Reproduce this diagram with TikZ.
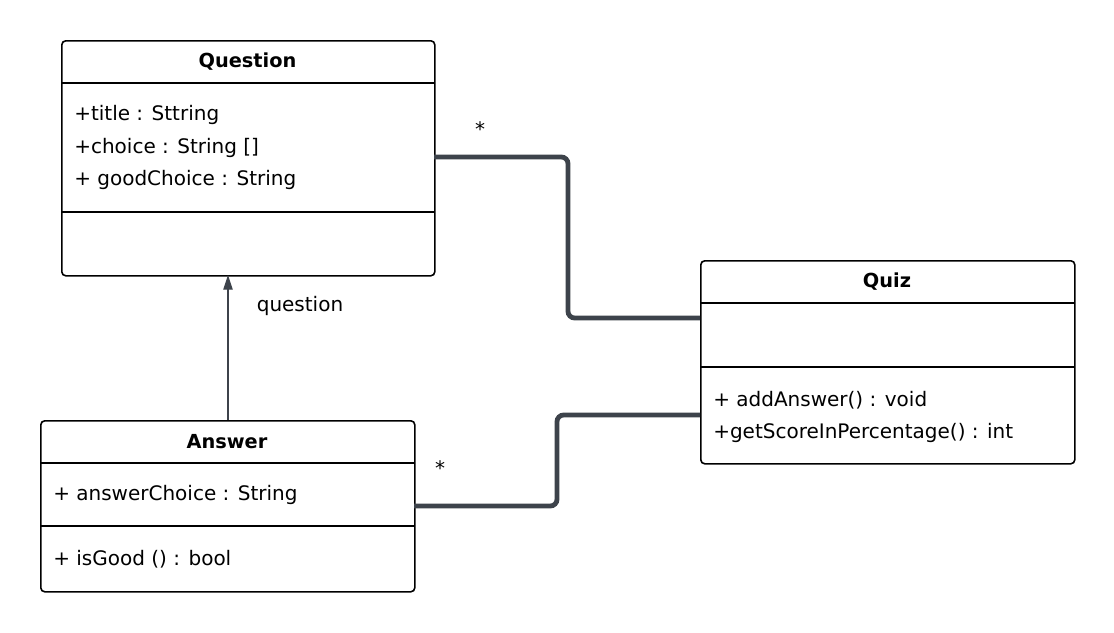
\documentclass[tikz,border=0pt]{standalone}
\usepackage{fontspec}
\setmainfont{DejaVu Sans}
\usetikzlibrary{arrows.meta}
\definecolor{conn}{HTML}{3D434B}
\begin{document}
\begin{tikzpicture}[x=0.75pt,y=-0.75pt,
  classbox/.style={draw=black,line width=1.2pt,rounded corners=3pt,inner sep=0pt},
  divider/.style={draw=black,line width=1.2pt},
  title/.style={font=\fontsize{14.5pt}{16pt}\selectfont\bfseries,inner sep=0pt},
  member/.style={font=\fontsize{15pt}{16pt}\selectfont,anchor=west,inner sep=0pt},
  assoc/.style={draw=conn,line width=3.6pt,rounded corners=5pt},
  lbl/.style={font=\fontsize{15pt}{16pt}\selectfont,inner sep=0pt}]
\useasboundingbox (0,0) rectangle (1114,632);
% Question
\node[classbox,minimum width=373*0.75pt,minimum height=235*0.75pt,anchor=north west] (Q) at (61,40) {};
\draw[divider] (61,83) -- (434,83);
\draw[divider] (61,212) -- (434,212);
\node[title] (Qt) at (247.5,62) {Question};
\node[member] (Q1) at (74,115) {+title : Sttring};
\node[member] (Q2) at (74,148) {+choice : String []};
\node[member] (Q3) at (74,180) {+ goodChoice : String};
% Quiz
\node[classbox,minimum width=374*0.75pt,minimum height=203*0.75pt,anchor=north west] (Z) at (700,260) {};
\draw[divider] (700,303) -- (1074,303);
\draw[divider] (700,367) -- (1074,367);
\node[title] (Zt) at (887,282) {Quiz};
\node[member] (Z1) at (713,400) {+ addAnswer() : void};
\node[member] (Z2) at (713,433) {+getScoreInPercentage() : int};
% Answer
\node[classbox,minimum width=374*0.75pt,minimum height=171*0.75pt,anchor=north west] (A) at (40,420) {};
\draw[divider] (40,463) -- (414,463);
\draw[divider] (40,526) -- (414,526);
\node[title] (At) at (227,442) {Answer};
\node[member] (A1) at (53,495) {+ answerChoice : String};
\node[member] (A2) at (53,559) {+ isGood () : bool};
% coordinates
\coordinate (q1) at (434,157);
\coordinate (z1) at (700,318);
\coordinate (a1) at (414,506);
\coordinate (z2) at (700,415);
\coordinate (aTop) at (228,420);
\coordinate (qBot) at (228,275);
% associations
\draw[assoc] (q1) -- (568,157) -- (568,318) -- (z1);
\draw[assoc] (a1) -- (557,506) -- (557,415) -- (z2);
\node[lbl] (s1) at (480,129) {*};
\node[lbl] (s2) at (440,468) {*};
% directed association
\draw[draw=conn,line width=0.8pt,-{Triangle[length=11pt,width=7pt]}] (aTop) -- (qBot);
\node[lbl] (ql) at (300,306) {question};
\end{tikzpicture}
\end{document}
